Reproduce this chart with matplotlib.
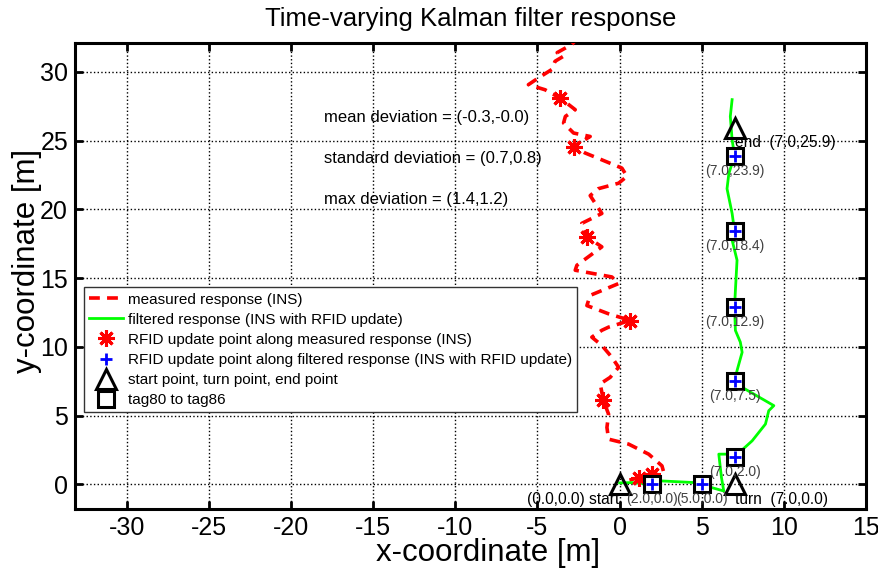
import matplotlib.pyplot as plt

plt.rcParams['font.family'] = ['Liberation Sans', 'DejaVu Sans']
plt.rcParams['axes.unicode_minus'] = False

# measured response (INS), red dashed
meas_x = [0.6, 1.16, 2.07, 2.68, 2.58, 1.77, 0.55, -0.67, -0.77, -0.67, -0.98, -1.18, -0.57, -0.06,
          -0.47, -1.08, -1.69, -1.08, -0.67, 0.65, -0.67, -1.99, -1.79, -0.06, -0.47, -2.7, -2.6,
          -1.08, -1.69, -1.99, -2.3, -1.08, -1.79, -1.3, -0.06, 0.45, 0.14, -1.08, -2.1, -2.8,
          -1.79, -2.8, -3.41, -3.3, -2.7, -3.62, -4.54, -5.55, -4.94, -4.13, -3.93, -3.41, -3.8, -2.9, -2.6]
meas_y = [0.3, 0.48, 0.8, 0.9, 1.34, 2.19, 2.92, 3.28, 4.13, 5.1, 6.08, 7.3, 7.78, 8.51,
          9.24, 10.1, 10.7, 11.2, 11.43, 11.92, 12.4, 13.0, 13.74, 14.6, 15.08, 15.57, 15.93,
          17.27, 17.76, 18.0, 18.98, 19.7, 21.0, 21.5, 21.9, 22.4, 23.0, 23.6, 24.1, 24.57,
          25.3, 25.55, 26.28, 26.76, 27.25, 28.1, 28.7, 29.07, 29.56, 30.17, 30.77, 31.14, 31.4, 32.0, 32.4]

# filtered response (INS with RFID update), green
filt_x = [0.0, 0.75, 2.0, 2.58, 4.6, 5.0, 5.63, 6.34, 6.2, 6.04, 6.85, 7.0, 8.07, 8.88, 9.08, 9.39,
          7.46, 7.0, 7.15, 7.46, 7.35, 7.05, 7.0, 7.05, 7.15, 6.85, 7.0, 6.85, 6.54, 6.65, 7.0,
          6.85, 6.74, 6.85]
filt_y = [0.1, 0.12, 0.0, 0.24, 0.12, 0.0, -0.25, -0.49, 0.5, 2.19, 2.19, 2.0, 3.16, 4.38, 5.35, 5.72,
          7.05, 7.5, 8.27, 9.6, 10.34, 11.19, 12.9, 14.1, 16.3, 17.76, 18.4, 19.7, 21.5, 22.6, 23.9,
          25.06, 26.76, 27.98]

# RFID update points along measured response
star_x = [1.16, 2.0, -0.98, 0.65, -2.0, -2.8, -3.6]
star_y = [0.48, 0.75, 6.1, 11.9, 18.0, 24.55, 28.1]

# tags (tag80 .. tag86) = RFID update points along filtered response
tag_x = [2.0, 5.0, 7.0, 7.0, 7.0, 7.0, 7.0]
tag_y = [0.0, 0.0, 2.0, 7.5, 12.9, 18.4, 23.9]

# start, turn, end
key_x = [0.0, 7.0, 7.0]
key_y = [0.0, 0.0, 25.9]

stats = ['mean deviation = (-0.3,-0.0)',
         'standard deviation = (0.7,0.8)',
         'max deviation = (1.4,1.2)']
stats_y = [26.7, 23.7, 20.7]

fig = plt.figure(figsize=(8.79, 5.72), dpi=100)
ax = fig.add_axes([75 / 879, 1 - 509 / 572, 791 / 879, 466 / 572])

ax.plot(meas_x, meas_y, color='red', ls=(0, (3, 2)), lw=2.6, label='measured response (INS)', zorder=3)
ax.plot(filt_x, filt_y, color='#00ff00', lw=2, label='filtered response (INS with RFID update)', zorder=3)
ax.plot(star_x, star_y, ls='none', marker=(8, 2, 0), ms=12, mew=2.2, color='red',
        label='RFID update point along measured response (INS)', zorder=4)
ax.plot(key_x, key_y, ls='none', marker='^', ms=15, mew=2.2, mfc='none', mec='black',
        label='start point, turn point, end point', zorder=5)
ax.plot(tag_x, tag_y, ls='none', marker='s', ms=11, mew=2.2, mfc='white', mec='black',
        label='tag80 to tag86', zorder=5)
h_plus, = ax.plot(tag_x, tag_y, ls='none', marker='+', ms=8, mew=2, color='blue', zorder=6)

for x, y in zip(tag_x, tag_y):
    ax.text(x, y - 1.1, f'({x:.1f},{y:.1f})', ha='center', va='center', fontsize=10, color='#404040', zorder=7)

ax.text(0.0, -1.1, '(0.0,0.0) start', ha='right', va='center', fontsize=11.2, zorder=7)
ax.text(7.0, -1.1, 'turn  (7.0,0.0)', ha='left', va='center', fontsize=11.2, zorder=7)
ax.text(7.05, 24.85, 'end  (7.0,25.9)', ha='left', va='center', fontsize=11.2, zorder=7)

for s, y in zip(stats, stats_y):
    ax.text(-18.0, y, s, ha='left', va='center', fontsize=12, zorder=7)

ax.set_xlim(-33.15, 15)
ax.set_ylim(-1.8, 32.1)
ax.set_xticks(range(-30, 16, 5))
ax.set_yticks(range(0, 31, 5))
ax.grid(True, color='black', ls=':', lw=1)
ax.tick_params(direction='in', top=True, right=True, length=6, width=2, labelsize=18, pad=5)
for sp in ax.spines.values():
    sp.set_linewidth(2.2)

ax.set_title('Time-varying Kalman filter response', fontsize=18.5, pad=12)
ax.set_xlabel('x-coordinate [m]', fontsize=22.5)
ax.set_ylabel('y-coordinate [m]', fontsize=22.5)
ax.xaxis.set_label_coords(0.522, -0.062)
ax.yaxis.set_label_coords(-0.042, 0.532)

handles, labels = ax.get_legend_handles_labels()
handles = handles[:3] + [h_plus] + handles[3:]
labels = labels[:3] + ['RFID update point along filtered response (INS with RFID update)'] + labels[3:]
leg = ax.legend(handles, labels, loc='upper left', bbox_to_anchor=(0.0114, 0.476), borderaxespad=0,
                fontsize=11, fancybox=False, framealpha=1, edgecolor='#333333', handlelength=2.2,
                labelspacing=0.4, handletextpad=0.3, borderpad=0.35)
leg.get_frame().set_linewidth(1)
leg.set_zorder(10)

fig.savefig('out.png', dpi=100)
